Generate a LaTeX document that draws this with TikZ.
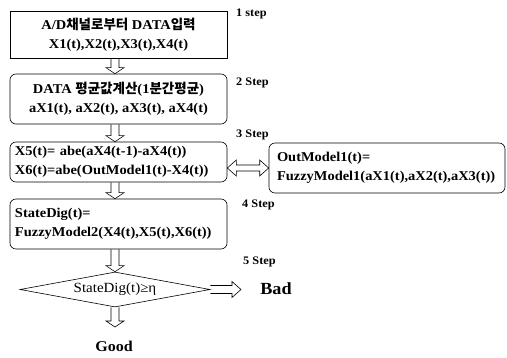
\documentclass[tikz,border=0pt]{standalone}
\usepackage{fontspec}
\setmainfont{Liberation Serif}[FakeStretch=1.07]
\newfontfamily\kr{Noto Sans CJK KR Bold}
\usetikzlibrary{calc,shapes.geometric}

\tikzset{
	box/.style={draw, line width=0.6pt, minimum width=217pt, inner sep=0pt, font=\bfseries\fontsize{13.5}{19}\selectfont},
	rbox/.style={box, rounded corners=6pt},
	steplabel/.style={anchor=west, inner sep=0pt, font=\bfseries\fontsize{11.5}{13}\selectfont},
	harrow/.style={line width=0.6pt, line join=miter}
}
% hollow arrows drawn between two anchors
\newcommand{\hdown}[2]{\draw[harrow] ($(#1)+(-4,0)$) -- ($(#2)+(-4,-6)$) -- ($(#2)+(-9,-6)$) -- (#2) -- ($(#2)+(9,-6)$) -- ($(#2)+(4,-6)$) -- ($(#1)+(4,0)$);}
\newcommand{\hright}[2]{\draw[harrow] ($(#1)+(0,-4)$) -- ($(#2)+(-9,-4)$) -- ($(#2)+(-9,-8)$) -- (#2) -- ($(#2)+(-9,8)$) -- ($(#2)+(-9,4)$) -- ($(#1)+(0,4)$);}
\newcommand{\hboth}[2]{\draw[harrow] (#1) -- ($(#1)+(9,-8)$) -- ($(#1)+(9,-3)$) -- ($(#2)+(-9,-3)$) -- ($(#2)+(-9,-8)$) -- (#2) -- ($(#2)+(-9,8)$) -- ($(#2)+(-9,3)$) -- ($(#1)+(9,3)$) -- ($(#1)+(9,8)$) -- cycle;}

\begin{document}
\begin{tikzpicture}[x=1pt, y=-1pt]
	\useasboundingbox (0,0) rectangle (507,358);

	\node[box, minimum height=47pt, align=center] (b1) at (118.5,34.5) {A/D{\kr 채널로부터} DATA{\kr 입력}\\X1(t),X2(t),X3(t),X4(t)};
	\node[rbox, minimum height=50pt, align=center] (b2) at (118.5,99) {DATA {\kr 평균값계산}(1{\kr 분간평균})\\aX1(t), aX2(t), aX3(t), aX4(t)};
	\node[rbox, minimum height=40pt, align=left, text width=207pt] (b3) at (118.5,162) {X5(t)= abe(aX4(t-1)-aX4(t))\\X6(t)=abe(OutModel1(t)-X4(t))};
	\node[rbox, minimum height=50pt, align=left, text width=207pt] (b4) at (118.5,224) {StateDig(t)=\\FuzzyModel2(X4(t),X5(t),X6(t))};
	\node[rbox, minimum width=236pt, minimum height=50pt, align=left, text width=220pt] (out) at (387,168) {OutModel1(t)=\\FuzzyModel1(aX1(t),aX2(t),aX3(t))};

	\node[draw, line width=0.6pt, diamond, aspect=5.4, minimum width=190pt, minimum height=35pt, inner sep=0pt, font=\fontsize{14}{16}\selectfont] (dia) at (115,289.5) {StateDig(t)≥η};

	\coordinate (gtip) at (115,327);
	\coordinate (btip) at (241,289.5);
	\node[font=\bfseries\fontsize{15}{17}\selectfont] (good) at (114,346) {Good};
	\node[font=\bfseries\fontsize{17}{19}\selectfont] (bad) at (276,289) {Bad};

	\node[steplabel] (s1) at (236,14) {1 step};
	\node[steplabel] (s2) at (236,83) {2 Step};
	\node[steplabel] (s3) at (236,135) {3 Step};
	\node[steplabel] (s4) at (242,205) {4 Step};
	\node[steplabel] (s5) at (243,262) {5 Step};

	\hdown{b1.south -| dia.north}{b2.north -| dia.north}
	\hdown{b2.south -| dia.north}{b3.north -| dia.north}
	\hdown{b3.south -| dia.north}{b4.north -| dia.north}
	\hdown{b4.south -| dia.north}{dia.north}
	\hdown{dia.south}{gtip}
	\hright{dia.east}{btip}
	\hboth{b3.east |- out.west}{out.west}
\end{tikzpicture}
\end{document}
